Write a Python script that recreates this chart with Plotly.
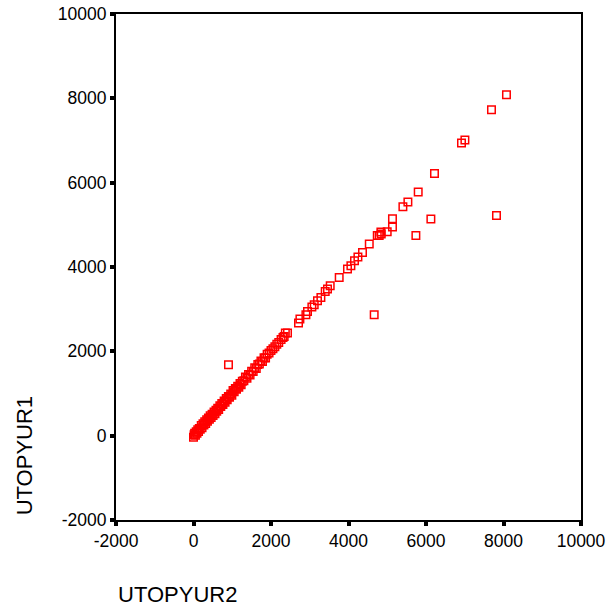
import plotly.graph_objects as go

# Dense band along the diagonal (UTOPYUR2, UTOPYUR1)
band_x = [0, 15, 30, 50, 70, 90, 110, 130, 150, 175, 200, 220, 245, 270, 290, 315, 340, 360,
          385, 410, 430, 455, 480, 505, 530, 555, 580, 600, 625, 650, 680, 705, 730, 760, 790,
          815, 845, 870, 900, 930, 960, 990, 1020, 1050, 1080, 1110, 1140, 1170, 1200, 1230,
          1260, 1300, 1340, 1380, 1420, 1460, 1500, 1540, 1580, 1620, 1660, 1700, 1740, 1780,
          1820, 1860, 1900, 1950, 2000, 2050, 2100, 2150, 2200, 2260, 2310, 2340, 2370]
band_y = [-40, 20, 60, 10, 90, 60, 140, 100, 170, 150, 240, 190, 280, 250, 330, 290, 380, 340,
          420, 390, 470, 430, 510, 480, 560, 520, 600, 580, 650, 620, 710, 690, 760, 740, 820,
          790, 880, 850, 930, 910, 990, 960, 1070, 1040, 1120, 1100, 1170, 1150, 1240, 1210,
          1290, 1300, 1390, 1360, 1450, 1440, 1530, 1521, 1610, 1590, 1690, 1700, 1770, 1760,
          1850, 1840, 1930, 1960, 2020, 2060, 2110, 2170, 2210, 2280, 2330, 2351, 2432]

# Sparser points along the diagonal
upper_x = [2426, 2710, 2746, 2901, 2942, 3055, 3115, 3200, 3288, 3399, 3458, 3528, 3760,
           3974, 4062, 4155, 4243, 4361, 4536, 4742, 4792, 4836, 4845, 4999, 5135, 5135,
           5404, 5533, 5799, 6219, 6916, 7004, 7690, 8077]
upper_y = [2432, 2669, 2764, 2866, 2944, 3049, 3103, 3198, 3276, 3419, 3476, 3554, 3751,
           3950, 4028, 4147, 4235, 4344, 4543, 4747, 4747, 4828, 4781, 4835, 5143, 4947,
           5428, 5540, 5777, 6218, 6940, 7011, 7729, 8085]

# Off-diagonal outliers
out_x = [903, 4663, 5739, 6126, 7819]
out_y = [1680, 2866, 4747, 5136, 5222]

tick_vals = [-2000, 0, 2000, 4000, 6000, 8000, 10000]
tick_text = ["-2000", "0", "2000", "4000", "6000", "8000", "10000"]

xs = band_x + upper_x + out_x
ys = band_y + upper_y + out_y

fig = go.Figure()
fig.add_trace(go.Scatter(
    x=xs, y=ys, mode="markers",
    marker=dict(symbol="square-open", size=7.5, color="#ff0000",
                line=dict(width=1.5, color="#ff0000")),
    showlegend=False, hoverinfo="skip"))

font_family = "Liberation Sans, Arial, Helvetica, sans-serif"
axis_common = dict(
    range=[-2000, 10000], tickmode="array", tickvals=tick_vals, ticktext=tick_text,
    showgrid=False, zeroline=False, automargin=False,
    showline=True, linecolor="black", linewidth=2, mirror=True,
    ticks="outside", ticklen=4, tickwidth=4, tickcolor="black",
    tickfont=dict(family=font_family, size=17.5, color="black"),
)

fig.update_layout(
    width=606, height=614,
    margin=dict(l=116, r=25, t=14, b=94),
    paper_bgcolor="white", plot_bgcolor="white",
    xaxis=dict(**axis_common),
    yaxis=dict(**axis_common),
    annotations=[
        dict(text="UTOPYUR2", xref="paper", yref="paper", x=0.0, y=-0.148,
             xanchor="left", yanchor="middle", showarrow=False,
             font=dict(family=font_family, size=22, color="black")),
        dict(text="UTOPYUR1", xref="paper", yref="paper", x=-0.196, y=0.006,
             xanchor="center", yanchor="bottom", textangle=-90, showarrow=False,
             font=dict(family=font_family, size=22, color="black")),
    ],
)

fig.write_html("out.html")
